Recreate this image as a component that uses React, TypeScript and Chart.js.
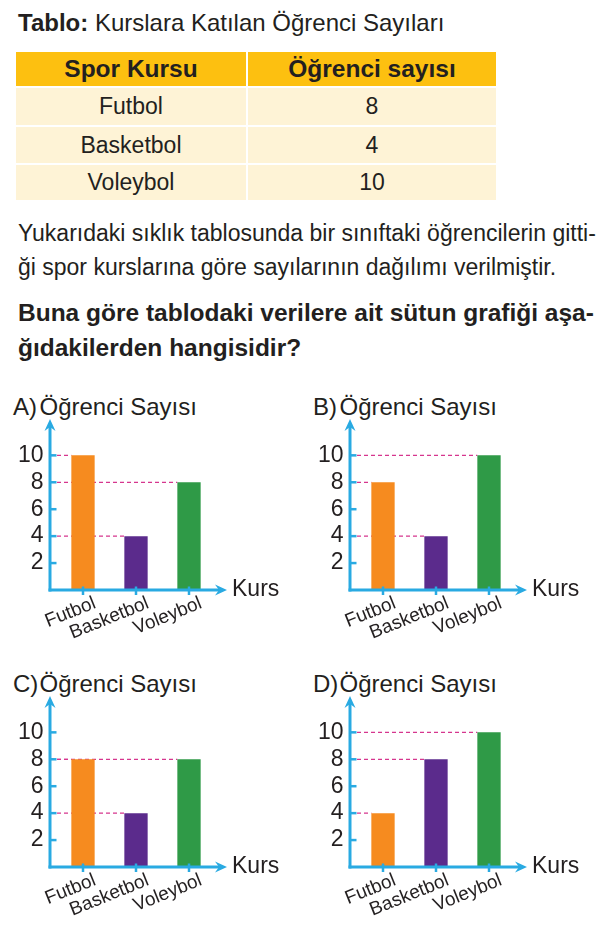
import React, { useEffect, useRef } from 'react';
import { Chart, registerables } from 'chart.js';

Chart.register(...registerables);

// ---------- data ----------
const titleBold = 'Tablo:';
const titleRest = ' Kurslara Katılan Öğrenci Sayıları';
const tableHeaders = ['Spor Kursu', 'Öğrenci sayısı'];
const courses = ['Futbol', 'Basketbol', 'Voleybol'];
const tableCounts = [8, 4, 10];
const paragraphLines = [
  'Yukarıdaki sıklık tablosunda bir sınıftaki öğrencilerin gitti-',
  'ği spor kurslarına göre sayılarının dağılımı verilmiştir.',
];
const questionLines = [
  'Buna göre tablodaki verilere ait sütun grafiği aşa-',
  'ğıdakilerden hangisidir?',
];
const optionLetters = ['A', 'B', 'C', 'D'];
const optionA = [10, 4, 8];
const optionB = [8, 4, 10];
const optionC = [8, 4, 8];
const optionD = [4, 8, 10];
const optionValues = [optionA, optionB, optionC, optionD];
const yTicks = [2, 4, 6, 8, 10];
const yAxisTitle = 'Öğrenci Sayısı';
const xAxisTitle = 'Kurs';

// ---------- style ----------
const FONT = '"Liberation Sans", Arial, Helvetica, sans-serif';
const TEXT = '#231F20';
const AXIS = '#29AAE2';
const GUIDE = '#D6368E';
const BAR_COLORS = ['#F68B1F', '#5B2B8C', '#2F9A47'];
const HEADER_BG = '#FDC010';
const ROW_BG = '#FEF3D6';
const LABEL_SHIFT = [13, 11, 16];

// top of a line box (line-height = font size) for a wanted baseline
const topFor = (baseline: number, size: number) => baseline - size * 0.8465;

function drawArrow(ctx: CanvasRenderingContext2D, tx: number, ty: number, dx: number, dy: number) {
  const len = 12;
  const half = 5.5;
  const notch = 8;
  const px = -dy;
  const py = dx;
  ctx.beginPath();
  ctx.moveTo(tx, ty);
  ctx.lineTo(tx - dx * len + px * half, ty - dy * len + py * half);
  ctx.lineTo(tx - dx * notch, ty - dy * notch);
  ctx.lineTo(tx - dx * len - px * half, ty - dy * len - py * half);
  ctx.closePath();
  ctx.fill();
}

const AXIS_GAP = 6.5;
const ARROW_EXT = 11.5;

const eduAxesPlugin = {
  id: 'eduAxes',
  beforeDatasetsDraw(chart: any) {
    const { ctx, chartArea } = chart;
    const axisX = chartArea.left - AXIS_GAP;
    const meta = chart.getDatasetMeta(0);
    ctx.save();
    ctx.strokeStyle = GUIDE;
    ctx.lineWidth = 1.2;
    ctx.setLineDash([4, 3]);
    meta.data.forEach((el: any) => {
      const p = el.getProps(['x', 'y', 'width'], true);
      ctx.beginPath();
      ctx.moveTo(axisX, p.y);
      ctx.lineTo(p.x - p.width / 2, p.y);
      ctx.stroke();
    });
    ctx.restore();
  },
  afterDatasetsDraw(chart: any) {
    const { ctx, chartArea, scales } = chart;
    const axisX = chartArea.left - AXIS_GAP;
    const axisY = chartArea.bottom;
    ctx.save();
    ctx.strokeStyle = AXIS;
    ctx.fillStyle = AXIS;
    ctx.lineWidth = 3;
    ctx.beginPath();
    ctx.moveTo(axisX, axisY + 1.5);
    ctx.lineTo(axisX, chartArea.top + 8);
    ctx.stroke();
    ctx.beginPath();
    ctx.moveTo(axisX - 1.5, axisY);
    ctx.lineTo(chartArea.right + ARROW_EXT - 8, axisY);
    ctx.stroke();
    drawArrow(ctx, axisX, chartArea.top, 0, -1);
    drawArrow(ctx, chartArea.right + ARROW_EXT, axisY, 1, 0);
    ctx.lineWidth = 2.5;
    scales.y.ticks.forEach((t: any) => {
      const y = scales.y.getPixelForValue(t.value);
      ctx.beginPath();
      ctx.moveTo(axisX, y);
      ctx.lineTo(axisX + 6.5, y);
      ctx.stroke();
    });
    scales.x.ticks.forEach((_t: any, i: number) => {
      const x = scales.x.getPixelForTick(i);
      ctx.beginPath();
      ctx.moveTo(x, axisY - 3.5);
      ctx.lineTo(x, axisY + 5);
      ctx.stroke();
    });
    ctx.restore();
  },
};

const CANVAS_W = 300;
const CANVAS_H = 235;
const PLOT_BOTTOM = 175;

function OptionChart({ letter, values, left, top }: { letter: string; values: number[]; left: number; top: number }) {
  const ref = useRef<HTMLCanvasElement>(null);
  useEffect(() => {
    if (!ref.current) return;
    const chart = new Chart(ref.current, {
      type: 'bar',
      data: {
        labels: courses,
        datasets: [
          {
            data: values,
            backgroundColor: BAR_COLORS,
            borderWidth: 0,
            barPercentage: 0.44,
            categoryPercentage: 1,
          },
        ],
      },
      options: {
        animation: false,
        responsive: false,
        maintainAspectRatio: false,
        events: [],
        layout: { padding: { top: 4, right: 84.5, left: 0, bottom: 0 } },
        plugins: {
          legend: { display: false },
          tooltip: { enabled: false },
          title: { display: false },
        },
        scales: {
          x: {
            type: 'category',
            offset: true,
            grid: { display: false, drawTicks: false },
            border: { display: false },
            ticks: {
              autoSkip: false,
              minRotation: 22,
              maxRotation: 22,
              padding: 2,
              labelOffset: (c: any) => LABEL_SHIFT[c.index] ?? 12,
              color: TEXT,
              font: { family: FONT, size: 19 },
            },
            afterFit: (s: any) => {
              s.height = CANVAS_H - PLOT_BOTTOM;
              s.paddingLeft = 0;
              s.paddingRight = 0;
              s.paddingTop = 0;
              s.paddingBottom = 0;
            },
          },
          y: {
            min: 0,
            max: 12.7,
            grid: { display: false, drawTicks: false },
            border: { display: false },
            afterBuildTicks: (s: any) => {
              s.ticks = yTicks.map((v) => ({ value: v }));
            },
            ticks: {
              padding: 13,
              color: TEXT,
              font: { family: FONT, size: 23 },
            },
            afterFit: (s: any) => {
              s.width = 56.5;
              s.paddingLeft = 0;
              s.paddingRight = 0;
              s.paddingTop = 0;
              s.paddingBottom = 0;
            },
          },
        },
      } as any,
      plugins: [eduAxesPlugin as any],
    });
    return () => chart.destroy();
  }, [values]);

  return (
    <div style={{ position: 'absolute', left, top, width: 300, height: 265 }}>
      <div style={{ position: 'absolute', left: 13, top: topFor(25, 24), fontSize: 24, lineHeight: '24px', whiteSpace: 'nowrap', color: TEXT }}>
        {letter})
      </div>
      <div style={{ position: 'absolute', left: 39.5, top: topFor(25, 24), fontSize: 24, lineHeight: '24px', whiteSpace: 'nowrap', color: TEXT }}>
        {yAxisTitle}
      </div>
      <canvas
        ref={ref}
        width={CANVAS_W}
        height={CANVAS_H}
        style={{ position: 'absolute', left: 0, top: 25, width: CANVAS_W, height: CANVAS_H }}
      />
      <div style={{ position: 'absolute', left: 232, top: topFor(206.7, 23), fontSize: 23, lineHeight: '23px', whiteSpace: 'nowrap', color: TEXT }}>
        {xAxisTitle}
      </div>
    </div>
  );
}

const colLeft = [16, 248];
const colWidth = [230, 248];
const rowTop = [51.7, 88, 127, 165];
const rowHeight = [34.3, 37, 36, 35];
const chartPos = [
  [0, 390],
  [300, 390],
  [0, 667],
  [300, 667],
];

export default function App() {
  const cells: React.ReactNode[] = [];
  rowTop.forEach((t, r) => {
    colLeft.forEach((l, c) => {
      const isHead = r === 0;
      const text = isHead ? tableHeaders[c] : c === 0 ? courses[r - 1] : String(tableCounts[r - 1]);
      cells.push(
        <div
          key={`${r}-${c}`}
          style={{
            position: 'absolute',
            left: l,
            top: t,
            width: colWidth[c],
            height: rowHeight[r],
            background: isHead ? HEADER_BG : ROW_BG,
            display: 'flex',
            alignItems: 'center',
            justifyContent: 'center',
            fontSize: isHead ? 24.5 : 23,
            lineHeight: isHead ? '24.5px' : '23px',
            fontWeight: isHead ? 'bold' : 'normal',
            color: TEXT,
            whiteSpace: 'nowrap',
          }}
        >
          {text}
        </div>
      );
    });
  });

  return (
    <div style={{ position: 'absolute', left: 0, top: 0, width: 614, height: 941, background: '#fff', fontFamily: FONT, color: TEXT, overflow: 'hidden' }}>
      <div style={{ position: 'absolute', left: 18, top: topFor(31.7, 24), fontSize: 24, lineHeight: '24px', whiteSpace: 'nowrap' }}>
        <span style={{ fontWeight: 'bold' }}>{titleBold}</span>
        {titleRest}
      </div>
      {cells}
      {paragraphLines.map((line, i) => (
        <div key={'p' + i} style={{ position: 'absolute', left: 18, top: topFor([241.7, 275][i], 23), fontSize: 23, lineHeight: '23px', whiteSpace: 'nowrap' }}>
          {line}
        </div>
      ))}
      {questionLines.map((line, i) => (
        <div key={'q' + i} style={{ position: 'absolute', left: 18, top: topFor([322, 357][i], 24.5), fontSize: 24.5, lineHeight: '24.5px', fontWeight: 'bold', whiteSpace: 'nowrap' }}>
          {line}
        </div>
      ))}
      {optionLetters.map((letter, i) => (
        <OptionChart key={letter} letter={letter} values={optionValues[i]} left={chartPos[i][0]} top={chartPos[i][1]} />
      ))}
    </div>
  );
}
